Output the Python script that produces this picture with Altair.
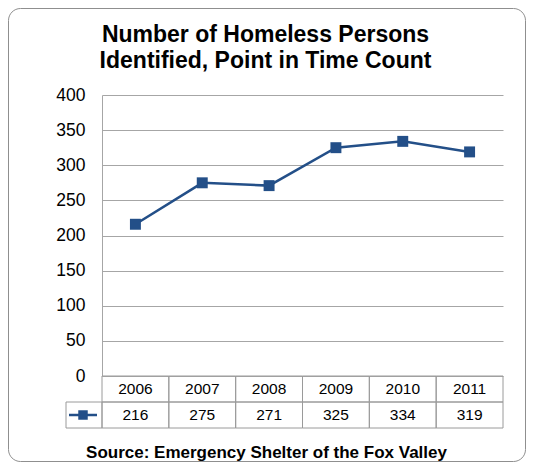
import altair as alt
import pandas as pd

# ---- data ----
years = ["2006", "2007", "2008", "2009", "2010", "2011"]
counts = [216, 275, 271, 325, 334, 319]
y_ticks = [0, 50, 100, 150, 200, 250, 300, 350, 400]
title_lines = ["Number of Homeless Persons", "Identified, Point in Time Count"]
source_text = "Source: Emergency Shelter of the Fox Valley"
row_keys = ["year", "count"]

FONT = "Liberation Sans"
BLUE = "#234f88"
GRID = "#a6a6a6"
CELL = "#9a9a9a"

W, H, TH = 401, 281, 52

line_df = pd.DataFrame({"year": years, "count": counts})
table_df = pd.DataFrame(
    [{"year": y, "row": "year", "label": y} for y in years]
    + [{"year": y, "row": "count", "label": str(c)} for y, c in zip(years, counts)]
)
one_df = pd.DataFrame({"row": ["count"]})

# ---- line chart ----
x_line = alt.X("year:O", scale=alt.Scale(type="point", padding=0.5, domain=years), axis=None)
y_line = alt.Y(
    "count:Q",
    scale=alt.Scale(domain=[0, 400], nice=False),
    axis=alt.Axis(values=y_ticks, grid=True, gridColor=GRID, ticks=False,
                  domainColor=GRID, labelFont=FONT, labelFontSize=17.5,
                  labelColor="black", labelPadding=17, title=None),
)

base = alt.Chart(line_df)
line = base.mark_line(color=BLUE, strokeWidth=2.5).encode(x=x_line, y=y_line)
pts = base.mark_point(shape="square", filled=True, size=120, color=BLUE, opacity=1).encode(x=x_line, y=y_line)

top = alt.layer(line, pts).properties(
    width=W, height=H,
    title=alt.TitleParams(text=title_lines, font=FONT, fontSize=23, fontWeight="bold",
                          lineHeight=26.5, anchor="middle", frame="group", dx=-37,
                          offset=13, color="black"),
)

# ---- data table ----
x_tab = alt.X(
    "year:N",
    scale=alt.Scale(type="band", domain=years, paddingInner=0, paddingOuter=0),
    axis=alt.Axis(labels=False, ticks=False, domain=False, title=source_text,
                  titleFont=FONT, titleFontSize=17, titleFontWeight="bold",
                  titleColor="black", titleX=164, titleY=29, titleBaseline="alphabetic"),
)
y_tab = alt.Y("row:N", scale=alt.Scale(domain=row_keys, paddingInner=0, paddingOuter=0), axis=None)
y_mid = alt.Y("row:N", bandPosition=0.5, scale=alt.Scale(domain=row_keys, paddingInner=0, paddingOuter=0), axis=None)

cells = alt.Chart(table_df).mark_rect(fillOpacity=0, stroke=CELL, strokeWidth=1).encode(x=x_tab, y=y_tab)
texts = alt.Chart(table_df).mark_text(font=FONT, fontSize=15.5, color="black").encode(x=x_tab, y=y_mid, text="label:N")
leg_cell = alt.Chart(one_df).mark_rect(fillOpacity=0, stroke=CELL, strokeWidth=1).encode(
    x=alt.value(-36), x2=alt.value(0), y=y_tab
)
leg_line = alt.Chart(one_df).mark_rule(color=BLUE, strokeWidth=2.5).encode(
    x=alt.value(-33), x2=alt.value(-5), y=y_mid
)
leg_pt = alt.Chart(one_df).mark_point(shape="square", filled=True, size=90, color=BLUE, opacity=1).encode(
    x=alt.value(-19), y=y_mid
)
border = alt.Chart(one_df).mark_rect(fillOpacity=0, stroke="#8f8f8f", strokeWidth=1, cornerRadius=12).encode(
    x=alt.value(-93.5), x2=alt.value(423.5), y=alt.value(-367.5), y2=alt.value(85.5)
)

table = alt.layer(border, cells, texts, leg_cell, leg_line, leg_pt).properties(width=W, height=TH)

chart = (
    alt.vconcat(top, table, spacing=0, bounds="flush")
    .resolve_scale(x="independent", y="independent")
    .configure_view(strokeOpacity=0)
    .properties(padding={"left": 0, "top": 0, "right": 0, "bottom": 0}, background="white")
)

chart.save("out.html", embed_options={"renderer": "svg", "actions": False})
